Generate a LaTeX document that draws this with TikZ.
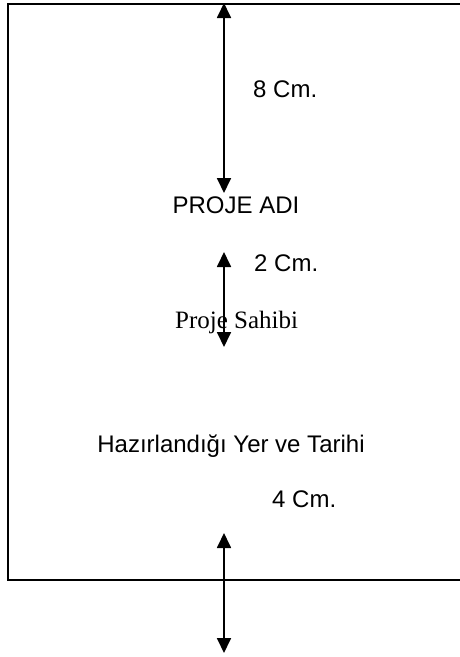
\documentclass[tikz,border=0pt]{standalone}
\usepackage{fontspec}
\setmainfont{Liberation Sans}
\newfontfamily\timesFont{Liberation Serif}
\usepackage{tikz}
\usetikzlibrary{arrows.meta}
\tikzstyle{pageFrame}=[line width=2pt]
\tikzstyle{sizeText}=[inner sep=0pt, anchor=base west, font=\fontsize{24}{28}\selectfont]
\tikzstyle{titleText}=[inner sep=0pt, anchor=base, font=\fontsize{24}{28}\selectfont]
\tikzstyle{sizeArrow}=[{Triangle[length=15pt,width=14pt]}-{Triangle[length=15pt,width=14pt]}, line width=1.8pt]

\begin{document}
\begin{tikzpicture}[x=1pt,y=-1pt]
        \useasboundingbox (0,0) rectangle (460,657);

        % Page frame (open on the right)
        \draw[pageFrame] (460,3.5) -- (7.5,3.5) -- (7.5,579.5) -- (460,579.5);

        % Texts
        \node[sizeText] (cm8) at (253, 97) {8 Cm.};
        \node[titleText] (title) at (236, 213) {PROJE ADI};
        \node[sizeText] (cm2) at (254, 271) {2 Cm.};
        \node[sizeText, font=\timesFont\fontsize{25}{28}\selectfont] (owner) at (175, 328) {Proje Sahibi};
        \node[titleText] (place) at (231, 452) {Hazırlandığı Yer ve Tarihi};
        \node[sizeText] (cm4) at (272, 507) {4 Cm.};

        % Arrow ends
        \coordinate (a0) at (224, 3);
        \coordinate (a1) at (224, 193);
        \coordinate (b0) at (224, 252);
        \coordinate (b1) at (224, 347);
        \coordinate (c0) at (224, 533);
        \coordinate (c1) at (224, 653);

        % Distances
        \draw[sizeArrow] (a0) -- (a1);
        \draw[sizeArrow] (b0) -- (b1);
        \draw[sizeArrow] (c0) -- (c1);
\end{tikzpicture}
\end{document}
